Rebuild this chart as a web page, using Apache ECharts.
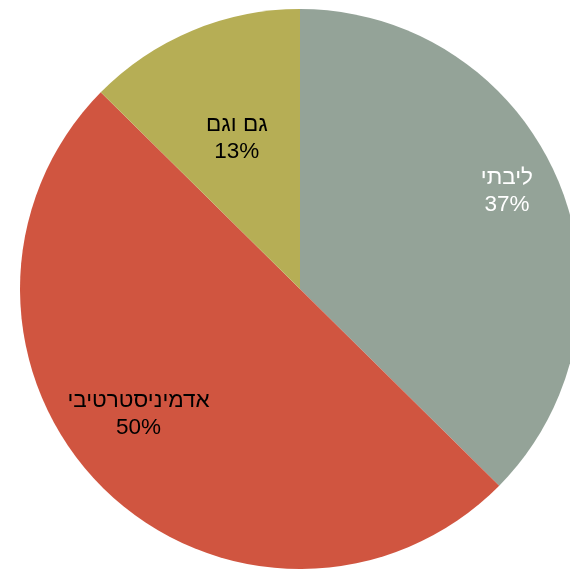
<!DOCTYPE html>
<html><head><meta charset="utf-8">
<script src="https://cdn.jsdelivr.net/npm/echarts@6/dist/echarts.min.js"></script>
<style>html,body{margin:0;padding:0;background:#fff}#c{width:570px;height:569px}</style>
</head><body><div id="c"></div>
<script>
const categories = ['ליבתי', 'אדמיניסטרטיבי', 'גם וגם'];
const values = [37.4, 50, 12.6];
const colors = ['#94A398', '#D05540', '#B6AE55'];
const labelColors = ['#ffffff', '#000000', '#000000'];
const labelShift = [[75, -43], [-61, 24], [-8, -19]];

const chart = echarts.init(document.getElementById('c'));
chart.setOption({
  animation: false,
  series: [{
    type: 'pie',
    center: [300, 289],
    radius: 280,
    startAngle: 90,
    clockwise: true,
    itemStyle: { borderWidth: 0 },
    label: {
      position: 'inside',
      fontFamily: 'Liberation Sans, Arial, sans-serif',
      fontSize: 22.5,
      lineHeight: 27,
      align: 'center',
      formatter: p => p.name + '\n' + Math.round(p.percent) + '%'
    },
    labelLayout: p => ({ dx: labelShift[p.dataIndex][0], dy: labelShift[p.dataIndex][1] }),
    emphasis: { disabled: true },
    data: categories.map((c, i) => ({
      name: c, value: values[i],
      itemStyle: { color: colors[i] },
      label: { color: labelColors[i] }
    }))
  }]
});
</script></body></html>
